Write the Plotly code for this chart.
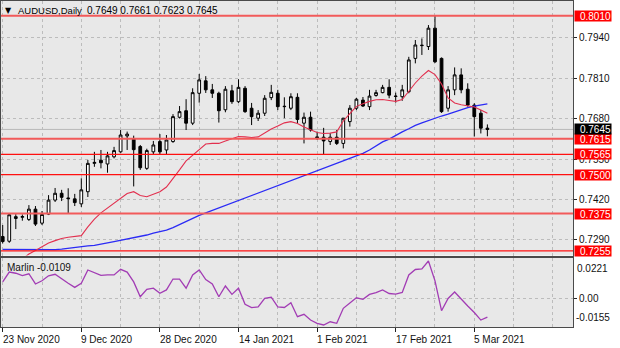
import plotly.graph_objects as go

# AUDUSD daily candles, 23 Nov 2020 .. 9 Mar 2021 (bar index 0..74)
opens = [0.7301, 0.7286, 0.7359, 0.7363, 0.7356, 0.7389, 0.7344, 0.7373, 0.7418, 0.7440,
         0.7425, 0.7422, 0.7406, 0.7445, 0.7536, 0.7546, 0.7534, 0.7557, 0.7573, 0.7624,
         0.7614, 0.7590, 0.7520, 0.7573, 0.7606, 0.7579, 0.7606, 0.7684, 0.7705, 0.7665,
         0.7761, 0.7801, 0.7772, 0.7761, 0.7708, 0.7769, 0.7734, 0.7777, 0.7713, 0.7681,
         0.7697, 0.7747, 0.7761, 0.7718, 0.7713, 0.7748, 0.7665, 0.7684, 0.7621, 0.7620,
         0.7606, 0.7620, 0.7600, 0.7670, 0.7713, 0.7739, 0.7718, 0.7754, 0.7763, 0.7780,
         0.7752, 0.7750, 0.7766, 0.7873, 0.7914, 0.7911, 0.7970, 0.7873, 0.7713, 0.7772,
         0.7820, 0.7774, 0.7723, 0.7697, 0.7649]
highs = [0.7338, 0.7376, 0.7373, 0.7372, 0.7402, 0.7399, 0.7383, 0.7434, 0.7457, 0.7451,
         0.7456, 0.7438, 0.7488, 0.7547, 0.7573, 0.7579, 0.7573, 0.7589, 0.7643, 0.7638,
         0.7625, 0.7595, 0.7583, 0.7608, 0.7630, 0.7627, 0.7694, 0.7720, 0.7742, 0.7777,
         0.7823, 0.7816, 0.7791, 0.7766, 0.7784, 0.7788, 0.7806, 0.7784, 0.7730, 0.7707,
         0.7755, 0.7788, 0.7772, 0.7748, 0.7761, 0.7761, 0.7699, 0.7702, 0.7638, 0.7650,
         0.7633, 0.7643, 0.7682, 0.7723, 0.7746, 0.7749, 0.7772, 0.7772, 0.7788, 0.7806,
         0.7763, 0.7788, 0.7878, 0.7932, 0.7937, 0.7980, 0.8009, 0.7876, 0.7784, 0.7844,
         0.7841, 0.7793, 0.7729, 0.7707, 0.7661]
lows = [0.7279, 0.7281, 0.7325, 0.7352, 0.7351, 0.7335, 0.7338, 0.7370, 0.7412, 0.7415,
        0.7376, 0.7399, 0.7396, 0.7428, 0.7525, 0.7520, 0.7506, 0.7552, 0.7570, 0.7579,
        0.7462, 0.7515, 0.7515, 0.7563, 0.7563, 0.7563, 0.7602, 0.7680, 0.7643, 0.7659,
        0.7731, 0.7762, 0.7746, 0.7667, 0.7700, 0.7727, 0.7730, 0.7698, 0.7659, 0.7672,
        0.7688, 0.7739, 0.7707, 0.7681, 0.7707, 0.7665, 0.7600, 0.7638, 0.7611, 0.7566,
        0.7595, 0.7595, 0.7584, 0.7654, 0.7707, 0.7717, 0.7707, 0.7750, 0.7761, 0.7745,
        0.7731, 0.7737, 0.7761, 0.7857, 0.7884, 0.7900, 0.7858, 0.7698, 0.7702, 0.7755,
        0.7761, 0.7718, 0.7622, 0.7632, 0.7623]
closes = [0.7285, 0.7371, 0.7365, 0.7365, 0.7389, 0.7341, 0.7372, 0.7418, 0.7440, 0.7427,
          0.7423, 0.7410, 0.7451, 0.7536, 0.7539, 0.7538, 0.7560, 0.7577, 0.7627, 0.7630,
          0.7580, 0.7522, 0.7577, 0.7595, 0.7573, 0.7611, 0.7686, 0.7702, 0.7665, 0.7763,
          0.7804, 0.7772, 0.7761, 0.7705, 0.7774, 0.7734, 0.7780, 0.7702, 0.7686, 0.7697,
          0.7745, 0.7764, 0.7718, 0.7719, 0.7750, 0.7677, 0.7684, 0.7643, 0.7618, 0.7608,
          0.7620, 0.7600, 0.7681, 0.7713, 0.7742, 0.7720, 0.7752, 0.7763, 0.7780, 0.7755,
          0.7751, 0.7772, 0.7868, 0.7916, 0.7915, 0.7970, 0.7862, 0.7702, 0.7772, 0.7820,
          0.7772, 0.7723, 0.7686, 0.7649, 0.7645]

# Fast moving average (red) and slow moving average (blue)
ma_fast = [None, None, None, 0.7229, 0.7245, 0.7256, 0.7268, 0.7280, 0.7288, 0.7295,
           0.7299, 0.7301, 0.7304, 0.7332, 0.7357, 0.7377, 0.7393, 0.7406, 0.7425, 0.7439,
           0.7445, 0.7433, 0.7429, 0.7436, 0.7445, 0.7460, 0.7486, 0.7515, 0.7544, 0.7563,
           0.7582, 0.7598, 0.7600, 0.7600, 0.7608, 0.7614, 0.7622, 0.7621, 0.7619, 0.7621,
           0.7634, 0.7646, 0.7656, 0.7666, 0.7670, 0.7664, 0.7653, 0.7643, 0.7635, 0.7632,
           0.7633, 0.7637, 0.7672, 0.7696, 0.7719, 0.7727, 0.7735, 0.7740, 0.7741, 0.7738,
           0.7735, 0.7741, 0.7768, 0.7794, 0.7816, 0.7834, 0.7821, 0.7791, 0.7746, 0.7730,
           0.7724, 0.7720, 0.7717, 0.7707, 0.7697]
ma_slow = [0.7260, 0.7260, 0.7259, 0.7258, 0.7259, 0.7260, 0.7260, 0.7258, 0.7259, 0.7261,
           0.7264, 0.7267, 0.7268, 0.7271, 0.7273, 0.7276, 0.7281, 0.7285, 0.7289, 0.7293,
           0.7296, 0.7301, 0.7306, 0.7312, 0.7317, 0.7322, 0.7330, 0.7340, 0.7349, 0.7359,
           0.7369, 0.7377, 0.7385, 0.7393, 0.7401, 0.7409, 0.7417, 0.7425, 0.7433, 0.7441,
           0.7449, 0.7457, 0.7465, 0.7473, 0.7481, 0.7489, 0.7497, 0.7505, 0.7513, 0.7521,
           0.7529, 0.7537, 0.7545, 0.7553, 0.7560, 0.7568, 0.7579, 0.7592, 0.7605, 0.7614,
           0.7626, 0.7637, 0.7647, 0.7658, 0.7666, 0.7674, 0.7682, 0.7688, 0.7694, 0.7701,
           0.7709, 0.7715, 0.7720, 0.7723, 0.7727]

# Marlin oscillator
marlin = [0.0098, 0.0156, 0.0149, 0.0135, 0.0146, 0.0086, 0.0105, 0.0134, 0.0143, 0.0115,
          0.0090, 0.0066, 0.0090, 0.0168, 0.0151, 0.0136, 0.0139, 0.0139, 0.0172, 0.0156,
          0.0098, 0.0011, 0.0055, 0.0061, 0.0031, 0.0051, 0.0115, 0.0115, 0.0061, 0.0139,
          0.0168, 0.0112, 0.0086, 0.0011, 0.0074, 0.0025, 0.0061, -0.0033, -0.0053, -0.0048,
          0.0002, 0.0008, -0.0049, -0.0052, -0.0024, -0.0106, -0.0092, -0.0126, -0.0145, -0.0155,
          -0.0136, -0.0145, -0.0057, -0.0028, 0.0005, -0.0004, 0.0025, 0.0035, 0.0051, 0.0030,
          0.0026, 0.0036, 0.0139, 0.0171, 0.0174, 0.0221, 0.0104, -0.0071, 0.0001, 0.0039,
          -0.0005, -0.0043, -0.0082, -0.0126, -0.0109]

# Support / resistance levels
levels_strong = [0.8010, 0.7615, 0.7375]
levels_weak = [0.7565, 0.7500, 0.7255]

price_ticks = [0.7290, 0.7420, 0.7550, 0.7680, 0.7810, 0.7940]
date_tick_bars = [0, 12, 24, 36, 48, 60, 72]
date_tick_text = ["23 Nov 2020", "9 Dec 2020", "28 Dec 2020", "14 Jan 2021",
                  "1 Feb 2021", "17 Feb 2021", "5 Mar 2021"]
grid_bars = list(range(0, 88, 6))

FONT = "Liberation Sans"
GRID = "#bcbcbc"
FRAME = "#4a4a4a"
bars = list(range(len(opens)))

fig = go.Figure()
fig.add_trace(go.Candlestick(
    x=bars, open=opens, high=highs, low=lows, close=closes,
    increasing=dict(line=dict(color="black", width=1), fillcolor="white"),
    decreasing=dict(line=dict(color="black", width=1), fillcolor="black"),
    whiskerwidth=0, xaxis="x", yaxis="y", hoverinfo="skip"))
fig.add_trace(go.Scatter(x=bars, y=ma_slow, mode="lines",
                         line=dict(color="#2b2bf5", width=1.3), xaxis="x", yaxis="y"))
fig.add_trace(go.Scatter(x=bars, y=ma_fast, mode="lines",
                         line=dict(color="#e2304f", width=1.1), xaxis="x", yaxis="y"))
fig.add_trace(go.Scatter(x=bars, y=marlin, mode="lines",
                         line=dict(color="#a23cb4", width=1.3), xaxis="x2", yaxis="y2"))

xrange = [-0.26, 87.07]
common_x = dict(range=xrange, zeroline=False, showline=True, mirror=True,
                linecolor=FRAME, linewidth=1, fixedrange=True,
                gridcolor=GRID, griddash="3px,3px", gridwidth=1)

fig.update_layout(
    width=620, height=348,
    margin=dict(l=1, r=47, t=1, b=21),
    paper_bgcolor="white", plot_bgcolor="#e8e8e8",
    showlegend=False, boxgap=0.4,
    xaxis=dict(domain=[0, 1], anchor="y", tickvals=grid_bars, showticklabels=False,
               ticks="", showgrid=True, rangeslider=dict(visible=False), **common_x),
    yaxis=dict(domain=[0.2193, 1], anchor="x", range=[0.72402, 0.80572], side="right",
               tickvals=price_ticks, ticktext=[f"{v:.4f}" for v in price_ticks],
               ticks="outside", ticklen=3, tickcolor="#222",
               tickfont=dict(family=FONT, size=10, color="#111"),
               showgrid=True, gridcolor=GRID, griddash="3px,3px",
               zeroline=False, showline=True, mirror=True, linecolor=FRAME, fixedrange=True),
    xaxis2=dict(domain=[0, 1], anchor="y2", tickvals=date_tick_bars, showticklabels=False,
                ticks="outside", ticklen=4, tickcolor="#222", showgrid=True,
                minor=dict(tickvals=[b for b in grid_bars if b not in date_tick_bars],
                           showgrid=True, gridcolor=GRID, griddash="3px,3px", ticks=""),
                **common_x),
    yaxis2=dict(domain=[0, 0.2117], anchor="x2", range=[-0.016675, 0.02386], side="right",
                tickvals=[0], ticktext=["0.00"], ticks="outside", ticklen=3, tickcolor="#222",
                tickfont=dict(family=FONT, size=10, color="#111"),
                showgrid=True, gridcolor=GRID, griddash="3px,3px",
                zeroline=False, showline=True, mirror=True, linecolor=FRAME, fixedrange=True),
)

# Bid line at the last close
fig.add_shape(type="line", xref="x domain", x0=0, x1=1, yref="y",
              y0=closes[-1], y1=closes[-1], line=dict(color="#b8b8b8", width=1), layer="below")

for lv in levels_strong:
    fig.add_shape(type="line", xref="x domain", x0=0, x1=1, yref="y", y0=lv, y1=lv,
                  line=dict(color="#f25a5a", width=2), layer="above")
for lv in levels_weak:
    fig.add_shape(type="line", xref="x domain", x0=0, x1=1, yref="y", y0=lv, y1=lv,
                  line=dict(color="#ff1010", width=1.2), layer="above")


def price_tag(value, bg):
    fig.add_annotation(x=1, xref="x domain", xanchor="left", xshift=1,
                       y=value, yref="y", yanchor="middle",
                       text=f"{value:.4f}", showarrow=False,
                       font=dict(family=FONT, size=10, color="white"),
                       bgcolor=bg, width=36, height=10, align="right", borderpad=0)


for lv in levels_strong + levels_weak:
    price_tag(lv, "#ff0000")
price_tag(closes[-1], "#000000")

# Oscillator extremes shown on its scale
fig.add_annotation(x=1, xref="x2 domain", xanchor="left", xshift=2, y=max(marlin), yref="y2",
                   yanchor="top", text=f"{max(marlin):.4f}", showarrow=False,
                   font=dict(family=FONT, size=10, color="#111"))
fig.add_annotation(x=1, xref="x2 domain", xanchor="left", xshift=1, y=min(marlin), yref="y2",
                   yanchor="bottom", text=f"{min(marlin):.4f}", showarrow=False,
                   font=dict(family=FONT, size=10, color="#111"))

# Window captions
fig.add_annotation(x=0, xref="x domain", xanchor="left", xshift=2, y=1, yref="y domain",
                   yanchor="middle", yshift=-9, text="▼", showarrow=False,
                   font=dict(family="DejaVu Sans", size=8, color="black"))
fig.add_annotation(x=0, xref="x domain", xanchor="left", xshift=15, y=1, yref="y domain",
                   yanchor="middle", yshift=-9, text="AUDUSD,Daily", showarrow=False,
                   font=dict(family=FONT, size=9.5, color="black"))
fig.add_annotation(x=0, xref="x domain", xanchor="left", xshift=84, y=1, yref="y domain",
                   yanchor="middle", yshift=-9,
                   text=" ".join(f"{v:.4f}" for v in (opens[-1], highs[-1], lows[-1], closes[-1])),
                   showarrow=False, font=dict(family=FONT, size=10, color="black"))
fig.add_annotation(x=0, xref="x2 domain", xanchor="left", xshift=4, y=1, yref="y2 domain",
                   yanchor="middle", yshift=-9.5, text=f"Marlin {marlin[-1]:.4f}",
                   showarrow=False, font=dict(family=FONT, size=10, color="#111"))

# Date labels start at their tick, as on the terminal's time scale
for b, label in zip(date_tick_bars, date_tick_text):
    fig.add_annotation(x=b, xref="x2", xanchor="left", xshift=-2, y=0, yref="paper",
                       yanchor="top", yshift=-5, text=label, showarrow=False,
                       font=dict(family=FONT, size=10, color="#111"))

fig.write_html("out.html")
